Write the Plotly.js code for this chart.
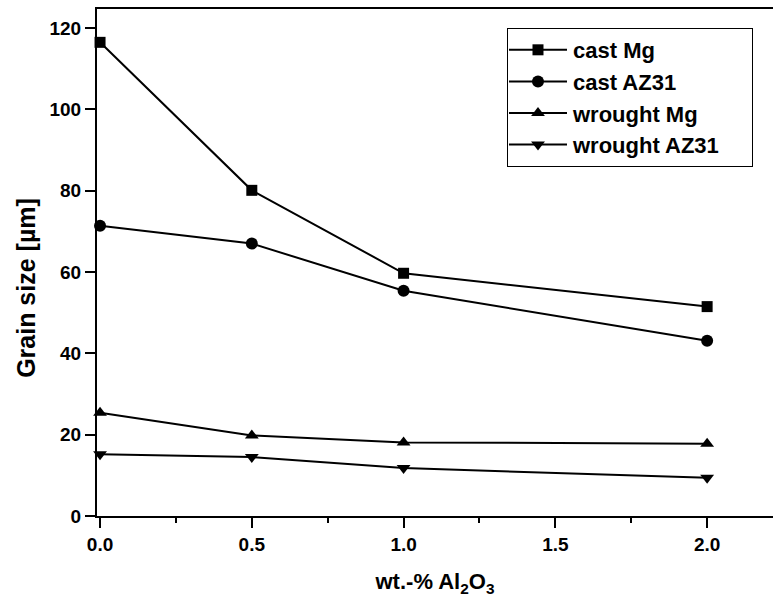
<!DOCTYPE html>
<html>
<head>
<meta charset="utf-8">
<script src="https://cdn.plot.ly/plotly-3.0.1.min.js"></script>
<style>
  html, body { margin: 0; padding: 0; background: #fff; }
  #chart { width: 773px; height: 604px; }
</style>
</head>
<body>
<div id="chart"></div>
<script>
// Al2O3 content (wt.-%) and measured grain sizes (µm)
const alumina = [0, 0.5, 1.0, 2.0];
const castMg = [116.5, 80.1, 59.7, 51.5];
const castAZ31 = [71.4, 67.0, 55.4, 43.1];
const wroughtMg = [25.4, 19.8, 18.1, 17.8];
const wroughtAZ31 = [15.2, 14.5, 11.8, 9.4];

const seriesNames = ['cast Mg', 'cast AZ31', 'wrought Mg', 'wrought AZ31'];
const seriesValues = [castMg, castAZ31, wroughtMg, wroughtAZ31];
const symbols = ['square', 'circle', 'triangle-up', 'triangle-down'];
const sizes = [11, 12, 12, 12];

const xTickVals = [0, 0.5, 1.0, 1.5, 2.0];
const xTickText = ['0.0', '0.5', '1.0', '1.5', '2.0'];
const yTickVals = [0, 20, 40, 60, 80, 100, 120];

const FONT = 'Liberation Sans, Arial, Helvetica, sans-serif';

const traces = seriesNames.map((name, i) => ({
  type: 'scatter',
  mode: 'lines+markers',
  name: name,
  x: alumina,
  y: seriesValues[i],
  cliponaxis: false,
  line: { color: '#000', width: 2 },
  marker: { symbol: symbols[i], size: sizes[i], color: '#000' }
}));

const axisCommon = {
  showgrid: false,
  zeroline: false,
  showline: true,
  linecolor: '#000',
  linewidth: 2,
  ticks: 'outside',
  ticklen: 10,
  tickwidth: 2,
  tickcolor: '#000',
  tickmode: 'array',
  tickfont: { family: FONT, size: 19, color: '#000', weight: 'bold' }
};

const layout = {
  width: 773,
  height: 604,
  margin: { l: 97, r: 0, t: 9, b: 88 },
  paper_bgcolor: '#fff',
  plot_bgcolor: '#fff',
  showlegend: true,
  legend: {
    x: 0.6065, y: 0.9625, xanchor: 'left', yanchor: 'top',
    bgcolor: '#fff', bordercolor: '#000', borderwidth: 1,
    font: { family: FONT, size: 22, color: '#000', weight: 'bold' },
    itemwidth: 55,
    tracegroupgap: 0
  },
  xaxis: Object.assign({}, axisCommon, {
    range: [-0.01, 2.217],
    tickvals: xTickVals,
    ticktext: xTickText,
    mirror: true,
    minor: { dtick: 0.25, tick0: 0, ticks: 'outside', ticklen: 5, tickwidth: 2, tickcolor: '#000' },
    title: { text: 'wt.-% Al<sub>2</sub>O<sub>3</sub>', standoff: 20,
             font: { family: FONT, size: 22, color: '#000', weight: 'bold' } }
  }),
  yaxis: Object.assign({}, axisCommon, {
    range: [0, 124.7],
    tickvals: yTickVals
  }),
  annotations: [{
    // y-axis title, placed a little below the axis midpoint
    text: 'Grain size [µm]',
    xref: 'paper', yref: 'paper',
    x: -0.105, y: 0.45,
    xanchor: 'center', yanchor: 'middle',
    textangle: -90,
    showarrow: false,
    font: { family: FONT, size: 25, color: '#000', weight: 'bold' }
  }]
};

// legend strokes start at the box edge with the symbol centred, and a slightly wider box
function styleLegend(gd) {
  gd.querySelectorAll('.legend .legendlines path').forEach(p => {
    p.setAttribute('d', 'M1,0h58');
  });
  gd.querySelectorAll('.legend .legendpoints path').forEach(p => {
    p.setAttribute('transform', 'translate(30,0)');
  });
  const bg = gd.querySelector('.legend rect.bg');
  if (bg) bg.setAttribute('width', '245');
}

const gd = document.getElementById('chart');
Plotly.newPlot(gd, traces, layout, { displayModeBar: false, staticPlot: true })
  .then(() => {
    styleLegend(gd);
    gd.on('plotly_afterplot', () => styleLegend(gd));
  });
</script>
</body>
</html>
